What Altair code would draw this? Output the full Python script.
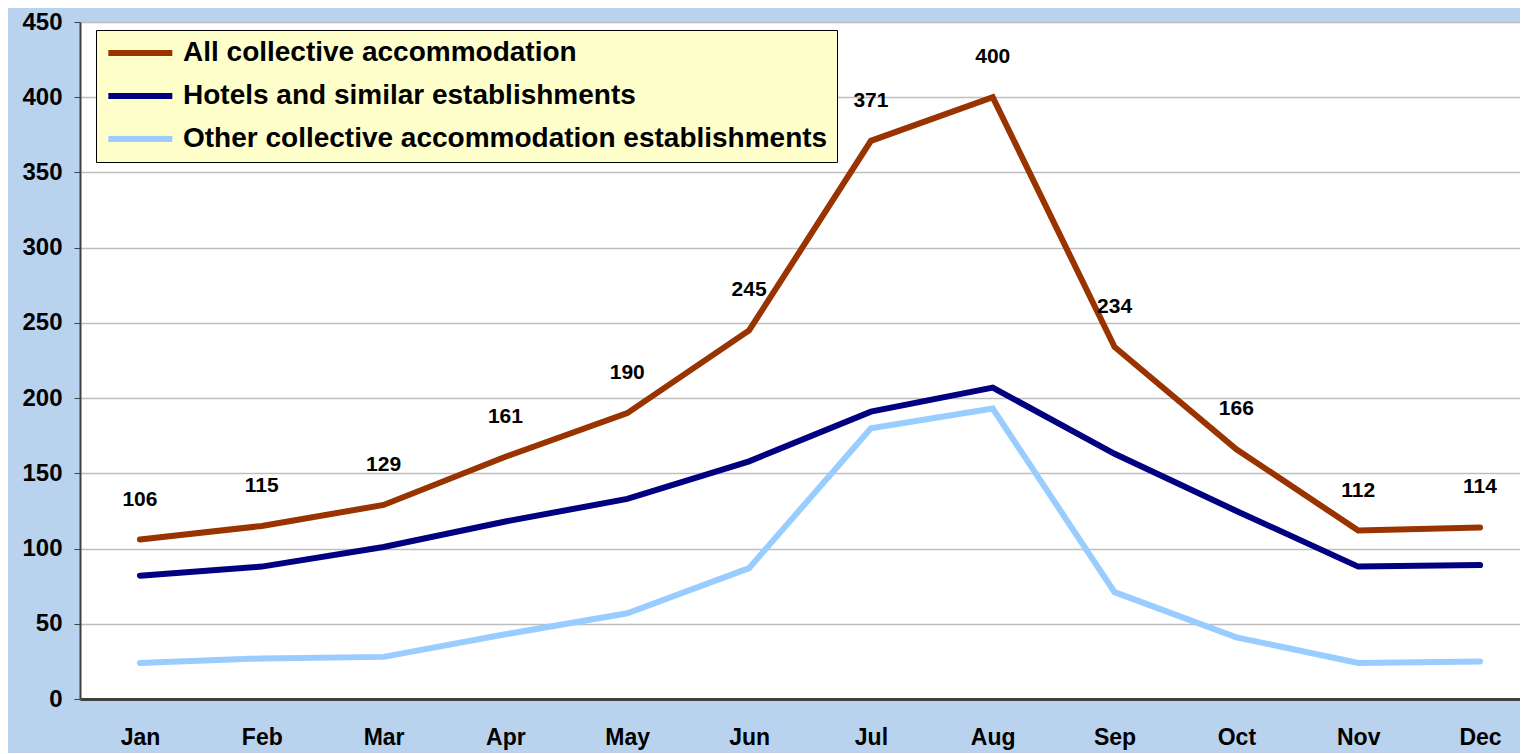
import altair as alt
import pandas as pd

months = ["Jan", "Feb", "Mar", "Apr", "May", "Jun", "Jul", "Aug", "Sep", "Oct", "Nov", "Dec"]
all_collective = [106, 115, 129, 161, 190, 245, 371, 400, 234, 166, 112, 114]
hotels = [82, 88, 101, 118, 133, 158, 191, 207, 163, 125, 88, 89]
other = [24, 27, 28, 43, 57, 87, 180, 193, 71, 41, 24, 25]
series_names = [
    "All collective accommodation",
    "Hotels and similar establishments",
    "Other collective accommodation establishments",
]
series_colors = ["#993300", "#000080", "#99CCFF"]
y_ticks = [0, 50, 100, 150, 200, 250, 300, 350, 400, 450]

rows = []
for name, vals in zip(series_names, [all_collective, hotels, other]):
    for m, v in zip(months, vals):
        rows.append({"month": m, "series": name, "value": v})
df = pd.DataFrame(rows)
labels_df = pd.DataFrame({"month": months, "value": all_collective})

FONT = "Liberation Sans"

x_enc = alt.X(
    "month:N",
    sort=months,
    scale=alt.Scale(type="point", padding=0.41, align=0.6),
    axis=alt.Axis(
        title=None, labelAngle=0, labelFont=FONT, labelFontSize=23, labelFontWeight="bold",
        labelColor="#000000", labelPadding=27, ticks=False, domainColor="#404040",
        domainWidth=3, grid=False,
    ),
)
y_enc = alt.Y(
    "value:Q",
    scale=alt.Scale(domain=[0, 450], nice=False),
    axis=alt.Axis(
        title=None, values=y_ticks, labelFont=FONT, labelFontSize=24, labelFontWeight="bold",
        labelColor="#000000", labelPadding=12, tickSize=6, tickColor="#404040",
        domainColor="#404040", domainWidth=2, gridColor="#BEBEBE", gridWidth=1.5,
    ),
)

lines = alt.Chart(df).mark_line(strokeWidth=6, strokeCap="round", strokeJoin="miter").encode(
    x=x_enc,
    y=y_enc,
    color=alt.Color(
        "series:N",
        scale=alt.Scale(domain=series_names, range=series_colors),
        sort=series_names,
        legend=alt.Legend(
            title=None, orient="none", legendX=16, legendY=8,
            fillColor="#FFFFCC", strokeColor="#000000", padding=9,
            symbolType="M-1,0H5", symbolSize=455, symbolStrokeWidth=6,
            labelFont=FONT, labelFontSize=28, labelFontWeight="bold", labelColor="#000000",
            labelLimit=1000, rowPadding=15, labelOffset=50,
        ),
    ),
    order=alt.Order("series:N"),
)

texts = alt.Chart(labels_df).mark_text(
    dy=-40, font=FONT, fontSize=21, fontWeight="bold", color="#000000"
).encode(
    x=alt.X("month:N", sort=months),
    y=alt.Y("value:Q"),
    text=alt.Text("value:Q"),
)

chart = (
    alt.layer(lines, texts)
    .properties(
        width=1440,
        height=677,
        background="#B9D3EE",
        padding={"left": 72, "top": 14, "right": 0, "bottom": 54},
        autosize=alt.AutoSizeParams(type="none"),
    )
    .configure_view(fill="#FFFFFF", stroke=None)
)

chart.save("out.html", embed_options={"renderer": "svg", "actions": False})
